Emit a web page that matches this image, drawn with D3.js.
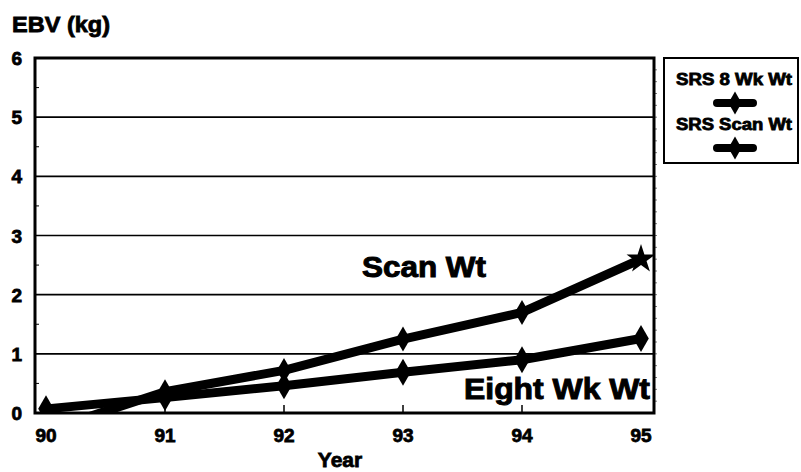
<!DOCTYPE html>
<html><head><meta charset="utf-8">
<script src="https://cdn.jsdelivr.net/npm/d3@7"></script>
<style>body{margin:0;background:#fff}text{font-family:"Liberation Sans",Arial,Helvetica,sans-serif;font-weight:bold;fill:#000;stroke:#000;stroke-width:0.8px}</style>
</head><body>
<svg id="c" width="801" height="472"></svg>
<script>
const years = [90, 91, 92, 93, 94, 95];
const eightWk = [0.07, 0.26, 0.46, 0.69, 0.90, 1.26];
const scanWt = [-0.30, 0.36, 0.72, 1.25, 1.70, 2.60];
const yTicks = [0, 1, 2, 3, 4, 5, 6];
const seriesNames = ["SRS 8 Wk Wt", "SRS Scan Wt"];

const svg = d3.select("#c");
const L = 35, R = 654, T = 58, B = 413;
const x = d3.scaleLinear().domain([90, 95]).range([46, 641]);
const y = d3.scaleLinear().domain([0, 6]).range([B, T]);

svg.append("clipPath").attr("id","clip").append("rect").attr("x",L).attr("y",T).attr("width",R-L).attr("height",B-T);

// grid lines
svg.append("g").selectAll("line").data(yTicks.filter(d=>d>0&&d<6)).join("line")
  .attr("x1",L).attr("x2",R).attr("y1",d=>y(d)).attr("y2",d=>y(d))
  .attr("stroke","#000").attr("stroke-width",1.6);

// minor ticks left (inward)
svg.append("g").selectAll("line").data(d3.range(0.5,6,1)).join("line")
  .attr("x1",L).attr("x2",L+4).attr("y1",d=>y(d)).attr("y2",d=>y(d))
  .attr("stroke","#000").attr("stroke-width",1);
// minor ticks right (outward)
svg.append("g").selectAll("line").data(d3.range(0.2,6,0.2)).join("line")
  .attr("x1",R).attr("x2",R+3).attr("y1",d=>y(d)).attr("y2",d=>y(d))
  .attr("stroke","#555").attr("stroke-width",0.8);
// x ticks inward
svg.append("g").selectAll("line").data(years.slice(1,-1)).join("line")
  .attr("x1",d=>x(d)).attr("x2",d=>x(d)).attr("y1",B).attr("y2",B-8)
  .attr("stroke","#000").attr("stroke-width",1.5);

// series
const line = d3.line().x((d,i)=>x(years[i])).y(d=>y(d));
const gS = svg.append("g").attr("clip-path","url(#clip)");
[eightWk, scanWt].forEach(s=>{
  gS.append("path").attr("d",line(s)).attr("fill","none").attr("stroke","#000")
    .attr("stroke-width",9).attr("stroke-linejoin","round");
});
const diamond = d3.symbol().type(d3.symbolDiamond).size(210);
const star = d3.symbol().type(d3.symbolStar).size(260);
gS.append("g").selectAll("path").data(eightWk).join("path")
  .attr("transform",(d,i)=>`translate(${x(years[i])},${y(d)})`).attr("d",diamond()).attr("fill","#000");
gS.append("g").selectAll("path").data(scanWt).join("path")
  .attr("transform",(d,i)=>`translate(${x(years[i])},${y(d)})`).attr("d",(d,i)=>i===5?star():d3.symbol().type(d3.symbolDiamond).size(180)()).attr("fill","#000");

// frame
svg.append("rect").attr("x",L).attr("y",T).attr("width",R-L).attr("height",B-T)
  .attr("fill","none").attr("stroke","#000").attr("stroke-width",3);

// axis labels
svg.append("g").selectAll("text").data(yTicks).join("text")
  .attr("x",22).attr("y",d=>y(d)+7).attr("text-anchor","end").attr("font-size",19).text(d=>d);
svg.append("g").selectAll("text").data(years).join("text")
  .attr("x",d=>x(d)).attr("y",442).attr("text-anchor","middle").attr("font-size",19).text(d=>d);
svg.append("text").attr("x",340).attr("y",467).attr("text-anchor","middle").attr("font-size",21).text("Year");
svg.append("text").attr("x",12).attr("y",32).attr("font-size",22)
  .attr("textLength",98).attr("lengthAdjust","spacingAndGlyphs").text("EBV (kg)");

// annotations
svg.append("text").attr("x",362).attr("y",277).attr("font-size",30)
  .attr("textLength",124).attr("lengthAdjust","spacingAndGlyphs").style("stroke-width","1px").text("Scan Wt");
svg.append("text").attr("x",464).attr("y",399).attr("font-size",30)
  .attr("textLength",186).attr("lengthAdjust","spacingAndGlyphs").style("stroke-width","1px").text("Eight Wk Wt");

// legend
const lg = svg.append("g");
lg.append("rect").attr("x",664).attr("y",58).attr("width",134).attr("height",105)
  .attr("fill","none").attr("stroke","#000").attr("stroke-width",2);
seriesNames.forEach((n,i)=>{
  const yy = 85 + i*45;
  lg.append("text").attr("x",676).attr("y",yy).attr("font-size",16)
    .attr("textLength",116).attr("lengthAdjust","spacingAndGlyphs").text(n);
  lg.append("line").attr("x1",717).attr("x2",753).attr("y1",yy+18).attr("y2",yy+18)
    .attr("stroke","#000").attr("stroke-width",8).attr("stroke-linecap","round");
  lg.append("path").attr("transform",`translate(735,${yy+18})`).attr("d",d3.symbol().type(d3.symbolDiamond).size(150)()).attr("fill","#000");
});
</script>
</body></html>
